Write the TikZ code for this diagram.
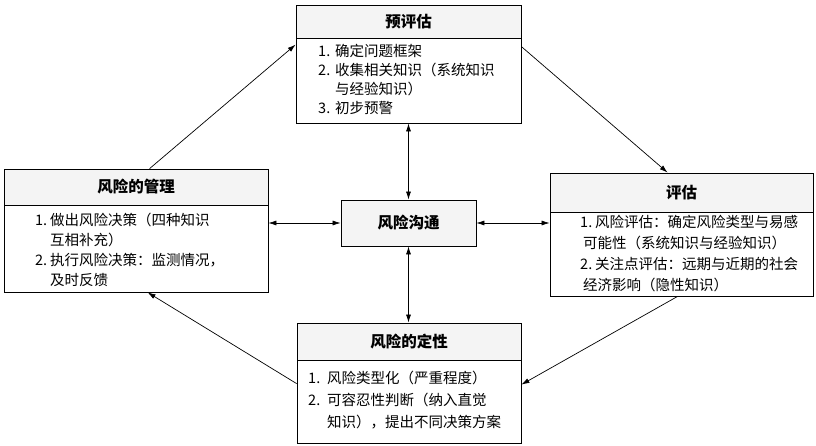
\documentclass[tikz,border=0pt]{standalone}
\usepackage{fontspec}
\setmainfont{Noto Sans CJK SC}
\usetikzlibrary{arrows.meta}
\newcommand\lbl[2]{\makebox[#1][l]{#2}}
\begin{document}
\begin{tikzpicture}[x=1bp,y=-1bp,
  box/.style={draw, line width=0.8bp, fill=white, inner sep=0pt, rectangle},
  headbox/.style={draw, line width=0.8bp, fill=gray!9, inner sep=0pt, rectangle, anchor=north,
    font=\fontsize{15.5bp}{18bp}\selectfont\bfseries},
  bodytext/.style={anchor=north west, inner sep=0pt, align=left},
  conn/.style={line width=0.7bp, -{Latex[length=8bp,width=5bp]}},
  dconn/.style={line width=0.7bp, {Latex[length=8bp,width=5bp]}-{Latex[length=8bp,width=5bp]}}
]
\useasboundingbox (0,0) rectangle (816,446);
\fill[white] (0,0) rectangle (816,446);

% top box
\node[box, minimum width=225bp, minimum height=118bp] (top) at (408.5,64) {};
\node[headbox, minimum width=225bp, minimum height=33bp] (tophead) at (top.north) {预评估};
\node[bodytext, font=\fontsize{14.5bp}{19bp}\selectfont] (topbody) at (318,44.5)
  {\lbl{17bp}{1.}确定问题框架\\
   \lbl{17bp}{2.}收集相关知识（系统知识\\
   \lbl{17bp}{}与经验知识）\\
   \lbl{17bp}{3.}初步预警};

% left box
\node[box, minimum width=264bp, minimum height=123bp] (left) at (136,230.5) {};
\node[headbox, minimum width=264bp, minimum height=36bp] (lefthead) at (left.north) {风险的管理};
\node[bodytext, font=\fontsize{14.5bp}{20bp}\selectfont] (leftbody) at (35,212.5)
  {\lbl{15bp}{1.}做出风险决策（四种知识\\
   \lbl{15bp}{}互相补充）\\
   \lbl{15bp}{2.}执行风险决策：监测情况，\\
   \lbl{15bp}{}及时反馈};

% right box
\node[box, minimum width=263bp, minimum height=123bp] (right) at (681.5,234.5) {};
\node[headbox, minimum width=263bp, minimum height=39bp] (righthead) at (right.north) {评估};
\node[bodytext, font=\fontsize{14.5bp}{20.7bp}\selectfont] (rightbody) at (580,215.5)
  {\lbl{15bp}{1.}风险评估：确定风险类型与易感\\
   \lbl{3bp}{}可能性（系统知识与经验知识）\\
   \lbl{15bp}{2.}关注点评估：远期与近期的社会\\
   \lbl{3bp}{}经济影响（隐性知识）};

% bottom box
\node[box, minimum width=224bp, minimum height=120bp] (bottom) at (409,383) {};
\node[headbox, minimum width=224bp, minimum height=37bp] (bottomhead) at (bottom.north) {风险的定性};
\node[bodytext, font=\fontsize{14.5bp}{22bp}\selectfont] (bottombody) at (308,370.5)
  {\lbl{19bp}{1.}风险类型化（严重程度）\\
   \lbl{19bp}{2.}可容忍性判断（纳入直觉\\
   \lbl{19bp}{}知识），提出不同决策方案};

% center box
\node[box, fill=gray!9, minimum width=135bp, minimum height=46bp,
  font=\fontsize{15.5bp}{18bp}\selectfont\bfseries] (center) at (408.5,223) {风险沟通};

% double connectors
\draw[dconn] (top.south -| center.north) -- (center.north);
\draw[dconn] (center.south) -- (bottom.north -| center.south);
\draw[dconn] (left.east |- center.west) -- (center.west);
\draw[dconn] (center.east) -- (right.west |- center.east);

% cycle connectors
\draw[conn] ([xshift=146bp]left.north west) -- ([yshift=-40bp]top.north west);
\draw[conn] ([yshift=-42bp]top.north east) -- ([xshift=118bp]right.north west);
\draw[conn] ([xshift=128bp]right.south west) -- ([yshift=-62bp]bottom.north east);
\draw[conn] ([yshift=-61bp]bottom.north west) -- ([xshift=144bp]left.south west);
\end{tikzpicture}
\end{document}
